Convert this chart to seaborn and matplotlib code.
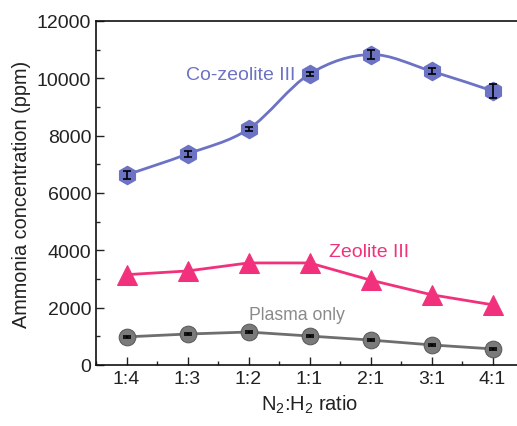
import numpy as np
import pandas as pd
import matplotlib.pyplot as plt
from matplotlib.path import Path
from matplotlib.patches import PathPatch
from matplotlib.ticker import MultipleLocator, AutoMinorLocator
import seaborn as sns

ratios = ['1:4', '1:3', '1:2', '1:1', '2:1', '3:1', '4:1']
co_zeolite = [6630, 7360, 8230, 10150, 10830, 10250, 9560]
co_zeolite_err = [150, 100, 60, 60, 150, 100, 250]
zeolite = [3150, 3280, 3560, 3560, 2960, 2450, 2100]
plasma = [980, 1080, 1150, 1010, 870, 700, 560]
plasma_err = [40, 40, 40, 40, 40, 40, 40]

c_co = '#6c72c4'
c_zeo = '#f2317c'
c_pl = '#6e6e6e'

sns.set_style('ticks')
plt.rcParams['font.family'] = ['Liberation Sans', 'DejaVu Sans']
plt.rcParams['mathtext.fontset'] = 'custom'
plt.rcParams['mathtext.rm'] = 'Liberation Sans'
plt.rcParams['mathtext.it'] = 'Liberation Sans'
plt.rcParams['xtick.direction'] = 'in'
plt.rcParams['ytick.direction'] = 'in'

df = pd.DataFrame({'ratio': ratios, 'pos': np.arange(len(ratios)),
                   'co': co_zeolite, 'co_err': co_zeolite_err,
                   'zeo': zeolite, 'pl': plasma, 'pl_err': plasma_err})

fig = plt.figure(figsize=(5.17, 4.27), dpi=100)
ax = fig.add_axes([0.1857, 0.1429, 0.826, 0.8056])


def smooth_path(xs, ys):
    # catmull-rom style bezier through the points
    xs = np.asarray(xs, float)
    ys = np.asarray(ys, float)
    verts = [(xs[0], ys[0])]
    codes = [Path.MOVETO]
    n = len(xs)
    for i in range(n - 1):
        p0 = (xs[max(i - 1, 0)], ys[max(i - 1, 0)])
        p1 = (xs[i], ys[i])
        p2 = (xs[i + 1], ys[i + 1])
        p3 = (xs[min(i + 2, n - 1)], ys[min(i + 2, n - 1)])
        c1 = (p1[0] + (p2[0] - p0[0]) / 6, p1[1] + (p2[1] - p0[1]) / 6)
        c2 = (p2[0] - (p3[0] - p1[0]) / 6, p2[1] - (p3[1] - p1[1]) / 6)
        verts += [c1, c2, p2]
        codes += [Path.CURVE4] * 3
    return Path(verts, codes)


# Co-zeolite III: smooth curve + hexagon markers with error bars
ax.add_patch(PathPatch(smooth_path(df['pos'], df['co']), fill=False,
                       edgecolor=c_co, lw=2, zorder=2))
sns.scatterplot(data=df, x='pos', y='co', marker='h', s=170, color=c_co,
                edgecolor=c_co, ax=ax, zorder=3)
ax.errorbar(df['pos'], df['co'], yerr=df['co_err'], fmt='none',
            ecolor='black', elinewidth=1.2, capsize=3, capthick=1.2, zorder=4)

# Zeolite III
sns.lineplot(data=df, x='pos', y='zeo', color=c_zeo, lw=2, marker='^',
             markersize=14, markeredgecolor=c_zeo, ax=ax, zorder=3)

# Plasma only
sns.lineplot(data=df, x='pos', y='pl', color=c_pl, lw=2, marker='o',
             markersize=12, markeredgecolor='#5a5a5a', markerfacecolor='#7a7a7a',
             ax=ax, zorder=3)
ax.errorbar(df['pos'], df['pl'], yerr=df['pl_err'], fmt='none',
            ecolor='black', elinewidth=1.2, capsize=3, capthick=1.2, zorder=4)

ax.text(1.87, 10150, 'Co-zeolite III', color=c_co, fontsize=14, ha='center', va='center')
ax.text(3.97, 3950, 'Zeolite III', color=c_zeo, fontsize=14, ha='center', va='center')
ax.text(2.79, 1770, 'Plasma only', color='#8a8a8a', fontsize=12.7, ha='center', va='center')

ax.set_xlim(-0.5, 6.5)
ax.set_ylim(0, 12000)
ax.set_xticks(df['pos'])
ax.set_xticklabels(ratios)
ax.xaxis.set_minor_locator(MultipleLocator(0.5))
ax.yaxis.set_major_locator(MultipleLocator(2000))
ax.yaxis.set_minor_locator(AutoMinorLocator(2))
ax.tick_params(which='major', length=6, width=1, labelsize=14, colors='#222222')
ax.tick_params(which='minor', length=3, width=1)
for s in ax.spines.values():
    s.set_linewidth(1.2)
    s.set_color('#111111')

ax.set_xlabel('N$_2$:H$_2$ ratio', fontsize=14.5, color='#222222')
ax.set_ylabel('Ammonia concentration (ppm)', fontsize=14.3, color='#222222')

fig.savefig('out.png', dpi=100)
